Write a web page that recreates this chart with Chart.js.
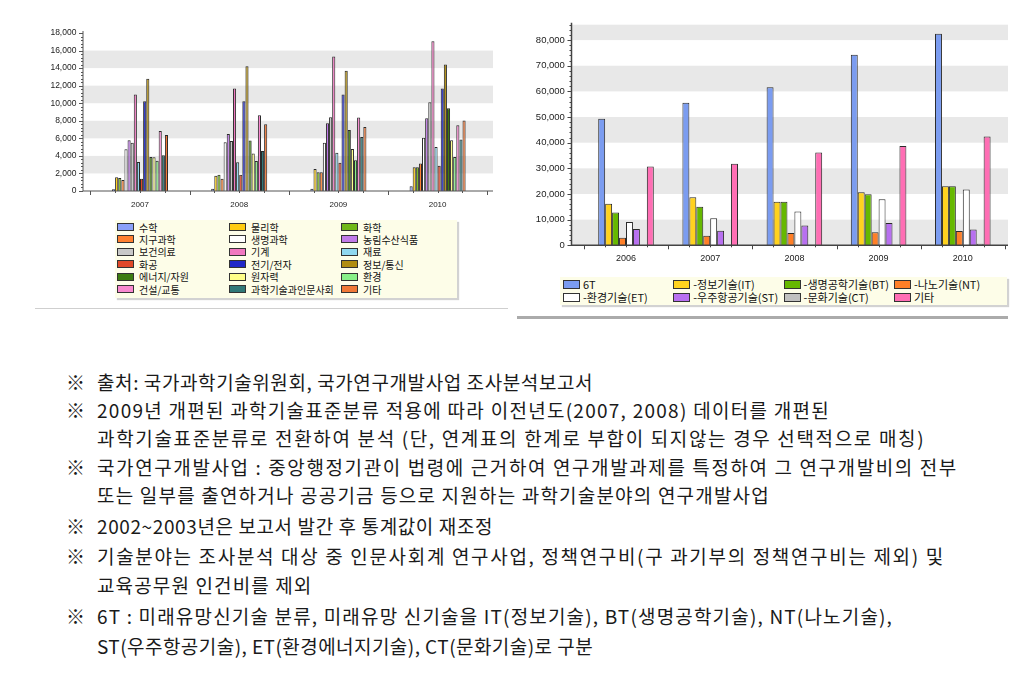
<!DOCTYPE html>
<html>
<head>
<meta charset="utf-8">
<script src="https://cdn.jsdelivr.net/npm/chart.js@4.4.1/dist/chart.umd.min.js"></script>
<style>
  body { margin: 0; width: 1036px; height: 674px; background: #fff; position: relative; overflow: hidden; }
  .wrap { position: absolute; }
  #wrapA { left: 0; top: 0; width: 515px; height: 215px; }
  #wrapB { left: 515px; top: 0; width: 521px; height: 270px; }
  .legend { position: absolute; background: #fdfde8; box-shadow: 2px 2px 1px #d2d2d2; font-family: "Noto Sans CJK KR", sans-serif; color: #111; }
  .legend .item { position: absolute; white-space: nowrap; display: flex; align-items: center; }
  .legend .sw { display: inline-block; border: 1px solid #333; box-sizing: border-box; }
  .rule { position: absolute; }
  .note { position: absolute; font-family: "Noto Sans CJK KR", sans-serif; font-size: 19px; line-height: 24px; color: #1a1a1a; white-space: nowrap; }
</style>
</head>
<body>
<div class="wrap" id="wrapA"><canvas id="chartA"></canvas></div>
<div class="wrap" id="wrapB"><canvas id="chartB"></canvas></div>
<div class="legend" id="legendA" style="left:115px;top:220px;width:342px;height:78px;font-size:10px;"></div>
<div class="legend" id="legendB" style="left:560px;top:277px;width:447px;height:28px;font-size:11px;"></div>
<div class="rule" style="left:35px;top:308px;width:473px;height:1px;background:#cfcfcf;"></div>
<div class="rule" style="left:517px;top:316px;width:491px;height:3px;background:#ababab;"></div>
<div id="notes"></div>
<script>
// left chart: 과학기술표준분류별 (2007~2010)
const fieldYears = ['2007', '2008', '2009', '2010'];
const fieldLabels = ['수학', '물리학', '화학', '지구과학', '생명과학', '농림수산식품',
  '보건의료', '기계', '재료', '화공', '전기/전자', '정보/통신',
  '에너지/자원', '원자력', '환경', '건설/교통', '과학기술과인문사회', '기타'];
const fieldColors = ['#8aa0f8', '#ffcc10', '#70b818', '#ff8030', '#ffffff', '#c07ae8',
  '#c8c8c8', '#f078c0', '#90d8f0', '#e04828', '#2028c8', '#b08c10',
  '#3c7c10', '#ffff88', '#88f088', '#f888d0', '#307878', '#f07838'];
const field2007 = [200, 1560, 1480, 1250, 4750, 5780, 5510, 10990, 3310, 1400, 10230, 12780, 3880, 3850, 3460, 6840, 4070, 6390];
const field2008 = [260, 1750, 1860, 1400, 5550, 6500, 5700, 11670, 3270, 1860, 10230, 14220, 5740, 4260, 3420, 8630, 4560, 7600];
const field2009 = [260, 2510, 2130, 2130, 5510, 7720, 8400, 15320, 4370, 3230, 10990, 13690, 6960, 4790, 3500, 8370, 6160, 7300];
const field2010 = [530, 2700, 2700, 3120, 6080, 8290, 10110, 17070, 5020, 2890, 11670, 14410, 9430, 5780, 3880, 7490, 5860, 8020];
const fieldTicks = [0, 2000, 4000, 6000, 8000, 10000, 12000, 14000, 16000, 18000];

// right chart: 6T 분류별 (2006~2010)
const techYears = ['2006', '2007', '2008', '2009', '2010'];
const techLabels = ['6T', '-정보기술(IT)', '-생명공학기술(BT)', '-나노기술(NT)',
  '-환경기술(ET)', '-우주항공기술(ST)', '-문화기술(CT)', '기타'];
const techColors = ['#7b9cf0', '#ffd21f', '#66b800', '#ff7f27', '#ffffff', '#b870f0', '#c0c0c0', '#ff6eb4'];
const tech6T = [49350, 55560, 61630, 74290, 82430];
const techIT = [16150, 18730, 16930, 20670, 23000];
const techBT = [12790, 14990, 16930, 19900, 23000];
const techNT = [2970, 3750, 4780, 5040, 5560];
const techET = [9040, 10590, 13180, 17960, 21710];
const techST = [6330, 5680, 7750, 8660, 6200];
const techCT = [0, 260, 260, 260, 650];
const techEtc = [30750, 31780, 36180, 38760, 42380];
const techTicks = [0, 10000, 20000, 30000, 40000, 50000, 60000, 70000, 80000];

// footnotes: y = line centre, end = right edge of the line in the original (null: use the average spacing)
const notes = [
  { mark: true, y: 382, end: 593, text: '출처: 국가과학기술위원회, 국가연구개발사업 조사분석보고서' },
  { mark: true, y: 410, end: 830, text: '2009년 개편된 과학기술표준분류 적용에 따라 이전년도(2007, 2008) 데이터를 개편된' },
  { mark: false, y: 438, end: 925, text: '과학기술표준분류로 전환하여 분석 (단, 연계표의 한계로 부합이 되지않는 경우 선택적으로 매칭)' },
  { mark: true, y: 467, end: 958, text: '국가연구개발사업 : 중앙행정기관이 법령에 근거하여 연구개발과제를 특정하여 그 연구개발비의 전부' },
  { mark: false, y: 495, end: 770, text: '또는 일부를 출연하거나 공공기금 등으로 지원하는 과학기술분야의 연구개발사업' },
  { mark: true, y: 526, end: 493, text: '2002~2003년은 보고서 발간 후 통계값이 재조정' },
  { mark: true, y: 556, end: 945, text: '기술분야는 조사분석 대상 중 인문사회계 연구사업, 정책연구비(구 과기부의 정책연구비는 제외) 및' },
  { mark: false, y: 585, end: null, text: '교육공무원 인건비를 제외' },
  { mark: true, y: 616, end: 893, text: '6T : 미래유망신기술 분류, 미래유망 신기술을 IT(정보기술), BT(생명공학기술), NT(나노기술),' },
  { mark: false, y: 646, end: 593, text: 'ST(우주항공기술), ET(환경에너지기술), CT(문화기술)로 구분' }
];

// banded background + hand drawn axes (the original axes run past the category area)
const frame = {
  id: 'frame',
  beforeDatasetsDraw(chart, args, o) {
    const { ctx, scales: { y } } = chart;
    const vals = y.ticks.map(t => t.value);
    const step = vals[1] - vals[0];
    ctx.save();
    ctx.fillStyle = o.band;
    vals.forEach((v, i) => {
      if (i % 2 !== o.parity || v >= y.max) return;
      const top = y.getPixelForValue(Math.min(v + step, y.max));
      const bot = y.getPixelForValue(v);
      ctx.fillRect(o.x0, top, o.x1 - o.x0, bot - top);
    });
    ctx.restore();
  },
  afterDatasetsDraw(chart, args, o) {
    const { ctx, chartArea: a, scales: { x, y } } = chart;
    const vals = y.ticks.map(t => t.value);
    const step = vals[1] - vals[0];
    ctx.save();
    ctx.strokeStyle = o.axis;
    ctx.lineWidth = o.width;
    ctx.beginPath();
    ctx.moveTo(o.x0, a.top - 2);
    ctx.lineTo(o.x0, a.bottom);
    ctx.lineTo(o.x1, a.bottom);
    ctx.stroke();
    ctx.lineWidth = 1;
    ctx.beginPath();
    vals.forEach(v => {
      for (let k = 0; k < o.minor; k++) {
        const val = v + k * step / o.minor;
        if (val > y.max) break;
        const py = Math.round(y.getPixelForValue(val)) + 0.5;
        ctx.moveTo(o.x0 - (k === 0 ? 4 : 2), py);
        ctx.lineTo(o.x0, py);
      }
    });
    const cw = x.getPixelForValue(1) - x.getPixelForValue(0);
    for (let i = 0; i <= x.ticks.length * 4; i++) {
      const px = Math.round(a.left + i * cw / 4) + 0.5;
      if (px > o.x1) break;
      ctx.moveTo(px, a.bottom);
      ctx.lineTo(px, a.bottom + (i % 4 === 0 ? 4 : 2));
    }
    ctx.stroke();
    ctx.restore();
  }
};

function barChart(id, cfg) {
  return new Chart(document.getElementById(id), {
    type: 'bar',
    data: { labels: cfg.labels, datasets: cfg.datasets },
    options: {
      responsive: true,
      maintainAspectRatio: false,
      animation: false,
      devicePixelRatio: 1,
      layout: { padding: cfg.padding },
      datasets: { bar: { categoryPercentage: cfg.cat, barPercentage: 1, borderWidth: 1, borderColor: '#2a2a2a' } },
      plugins: { legend: { display: false }, tooltip: { enabled: false }, frame: cfg.frame },
      scales: {
        x: {
          grid: { display: false, drawTicks: false },
          border: { display: false },
          ticks: { color: '#222', padding: cfg.xPad, font: { family: 'Liberation Sans, Arial', size: cfg.xFont } },
          afterFit: s => { s.height = 20; }
        },
        y: {
          min: 0,
          max: cfg.max,
          grid: { display: false, drawTicks: false },
          border: { display: false },
          afterBuildTicks: s => { s.ticks = cfg.ticks.map(v => ({ value: v })); },
          ticks: {
            color: '#222', padding: cfg.yPad,
            font: { family: 'Liberation Sans, Arial', size: cfg.yFont },
            callback: v => v.toLocaleString('en-US')
          },
          afterFit: s => { s.width = cfg.yWidth; }
        }
      }
    },
    plugins: [frame]
  });
}

const fieldRows = [field2007, field2008, field2009, field2010];
barChart('chartA', {
  labels: fieldYears,
  datasets: fieldLabels.map((name, i) => ({
    label: name,
    data: fieldRows.map(row => row[i]),
    backgroundColor: fieldColors[i]
  })),
  max: 18000, ticks: fieldTicks, cat: 0.565,
  padding: { left: 0, right: 27.8, top: 33, bottom: 4 },
  yWidth: 90.4, yPad: 14, yFont: 8.5, xPad: 9, xFont: 8,
  frame: { x0: 83, x1: 493, band: '#e8e8e8', parity: 1, axis: '#555', width: 1, minor: 5 }
});

const techSeries = [tech6T, techIT, techBT, techNT, techET, techST, techCT, techEtc];
barChart('chartB', {
  labels: techYears,
  datasets: techLabels.map((name, i) => ({
    label: name,
    data: techSeries[i],
    backgroundColor: techColors[i]
  })),
  max: 86000, ticks: techTicks, cat: 0.66,
  padding: { left: 0, right: 31.1, top: 23, bottom: 4.3 },
  yWidth: 68.9, yPad: 19, yFont: 9.5, xPad: 8, xFont: 9,
  frame: { x0: 56.5, x1: 493, band: '#e8e8e8', parity: 0, axis: '#444', width: 1.5, minor: 5 }
});

function buildLegend(id, labels, colors, c) {
  const box = document.getElementById(id);
  labels.forEach((name, i) => {
    const item = document.createElement('div');
    item.className = 'item';
    item.style.left = (c.x + (i % c.cols) * c.colW) + 'px';
    item.style.top = (c.y + Math.floor(i / c.cols) * c.rowH) + 'px';
    item.style.height = c.h + 'px';
    const sw = document.createElement('span');
    sw.className = 'sw';
    sw.style.cssText = `background:${colors[i]};width:${c.sw}px;height:${c.sh}px;margin-right:${c.gap}px;`;
    const tx = document.createElement('span');
    tx.textContent = name;
    item.append(sw, tx);
    box.appendChild(item);
  });
}
buildLegend('legendA', fieldLabels, fieldColors, { x: 2, y: 1, cols: 3, colW: 112, rowH: 12.4, h: 12, sw: 17, sh: 8, gap: 5 });
buildLegend('legendB', techLabels, techColors, { x: 3, y: 0.5, cols: 4, colW: 110.3, rowH: 13, h: 13, sw: 17, sh: 9, gap: 3 });

const textLeft = 97;
const notesBox = document.getElementById('notes');
const noteLines = notes.map(n => {
  if (n.mark) {
    const m = document.createElement('div');
    m.className = 'note';
    m.style.left = '66px';
    m.style.top = (n.y - 12) + 'px';
    m.textContent = '※';
    notesBox.appendChild(m);
  }
  const t = document.createElement('div');
  t.className = 'note';
  t.style.left = textLeft + 'px';
  t.style.top = (n.y - 12) + 'px';
  t.textContent = n.text;
  notesBox.appendChild(t);
  return t;
});

// stretch each line to the width it has in the original (re-run once fonts are in)
function fitNotes() {
  const spacing = noteLines.map((t, i) => {
    t.style.letterSpacing = '0px';
    if (notes[i].end == null) return null;
    const natural = t.getBoundingClientRect().width;
    return (notes[i].end - textLeft - natural) / [...notes[i].text].length;
  });
  const known = spacing.filter(s => s != null);
  const avg = known.reduce((a, b) => a + b, 0) / known.length;
  noteLines.forEach((t, i) => {
    t.style.letterSpacing = (spacing[i] == null ? avg : spacing[i]).toFixed(2) + 'px';
  });
}
fitNotes();
document.fonts.ready.then(fitNotes);
</script>
</body>
</html>
